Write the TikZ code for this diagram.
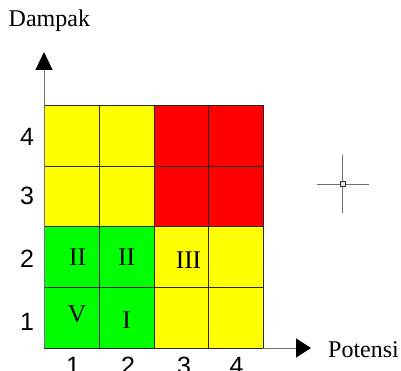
\documentclass[tikz,border=0pt]{standalone}
\usepackage{fontspec}
\setmainfont{Liberation Serif}
\newfontfamily\arialf{Liberation Sans}
\usetikzlibrary{arrows.meta}
\definecolor{cyel}{HTML}{FFFF00}
\definecolor{cred}{HTML}{FF0000}
\definecolor{cgrn}{HTML}{00FF00}
\definecolor{axgray}{HTML}{707070}
\begin{document}
\begin{tikzpicture}[x=1pt,y=-1pt,
  cell/.style={draw=black!85, line width=0.8pt, minimum width=54.75pt, minimum height=60.75pt, inner sep=0pt, anchor=north west},
  roman/.style={font=\fontsize{25.5}{25.5}\selectfont, inner sep=0pt},
  axnum/.style={font=\arialf\fontsize{25}{25}\selectfont, inner sep=0pt},
  axlabel/.style={font=\fontsize{24}{24}\selectfont, inner sep=0pt, anchor=base west},
  axline/.style={draw=axgray, line width=0.9pt},
  tipY/.style={-{Triangle[length=18pt,width=17pt,color=black,fill=black]}},
  tipX/.style={-{Triangle[length=15pt,width=19pt,color=black,fill=black]}},
  cross/.style={draw=axgray, line width=0.9pt}]
\useasboundingbox (0,0) rectangle (401,371);
% row 4 (top)
\node[cell, fill=cyel] (c14) at (44,105) {};
\node[cell, fill=cyel] (c24) at (98.75,105) {};
\node[cell, fill=cred] (c34) at (153.5,105) {};
\node[cell, fill=cred] (c44) at (208.25,105) {};
% row 3
\node[cell, fill=cyel] (c13) at (44,165.75) {};
\node[cell, fill=cyel] (c23) at (98.75,165.75) {};
\node[cell, fill=cred] (c33) at (153.5,165.75) {};
\node[cell, fill=cred] (c43) at (208.25,165.75) {};
% row 2
\node[cell, fill=cgrn] (c12) at (44,226.5) {};
\node[cell, fill=cgrn] (c22) at (98.75,226.5) {};
\node[cell, fill=cyel] (c32) at (153.5,226.5) {};
\node[cell, fill=cyel] (c42) at (208.25,226.5) {};
% row 1
\node[cell, fill=cgrn] (c11) at (44,287.25) {};
\node[cell, fill=cgrn] (c21) at (98.75,287.25) {};
\node[cell, fill=cyel] (c31) at (153.5,287.25) {};
\node[cell, fill=cyel] (c41) at (208.25,287.25) {};
% roman labels
\node[roman] (r12) at (77.5,257.5) {II};
\node[roman] (r22) at (126.5,257.5) {II};
\node[roman] (r32) at (188.5,260.5) {III};
\node[roman] (r11) at (77,314.5) {V};
\node[roman] (r21) at (126.5,320) {I};
% axes
\coordinate (O) at (44,348);
\coordinate (ytip) at (44,52);
\coordinate (xend) at (263,348);
\coordinate (xtip) at (311,348);
\draw[axline, tipY] (O) -- (ytip);
\draw[axline, tipX] (xend) -- (xtip);
% axis numbers
\node[axnum] (y4) at (27,137) {4};
\node[axnum] (y3) at (27,196) {3};
\node[axnum] (y2) at (27,259) {2};
\node[axnum] (y1) at (27,322) {1};
\node[axnum] (x1) at (73,366) {1};
\node[axnum] (x2) at (128,366) {2};
\node[axnum] (x3) at (184,366) {3};
\node[axnum] (x4) at (236.5,366) {4};
% axis labels
\node[axlabel] (dampak) at (8.5,26.5) {Dampak};
\node[axlabel] (potensi) at (328,357) {Potensi};
% crosshair
\coordinate (cc) at (342.7,184.3);
\draw[cross] (316.7,184.3) -- (369.3,184.3);
\draw[cross] (342.7,155) -- (342.7,213.3);
\draw[draw=black!80, line width=0.7pt, fill=white!80!gray] (340.2,181.8) rectangle (345.2,186.8);
\end{tikzpicture}
\end{document}
